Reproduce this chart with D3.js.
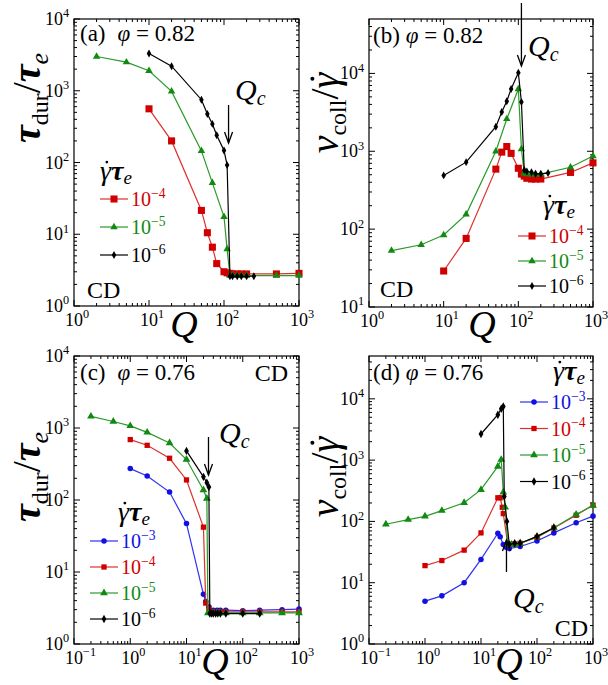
<!DOCTYPE html>
<html>
<head>
<meta charset="utf-8">
<script src="https://cdn.jsdelivr.net/npm/d3@7"></script>
<style>
  body { margin: 0; background: #fff; }
</style>
</head>
<body>
<svg id="chart" width="608" height="685"></svg>
<script>
// ---- data ----
// (a) tau_dur / tau_e, phi = 0.82
const qA4 = [10, 20, 50, 60, 70, 80, 100, 110, 120, 130, 150, 170, 200, 500, 1000];
const vA4 = [560, 200, 21.5, 10.5, 6.6, 3.9, 3.0, 2.9, 2.85, 2.8, 2.8, 2.8, 2.8, 2.8, 2.85];
const qA5 = [2, 5, 10, 20, 50, 70, 100, 110, 120, 130, 150, 170, 200, 500, 1000];
const vA5 = [3000, 2500, 1900, 980, 145, 52, 17.5, 6.2, 2.65, 2.65, 2.65, 2.65, 2.65, 2.65, 2.65];
const qA6 = [10, 20, 50, 60, 70, 80, 100, 110, 120, 130, 150, 170, 200, 250];
const vA6 = [3300, 2200, 750, 475, 345, 240, 147, 92, 2.6, 2.6, 2.6, 2.6, 2.6, 2.6];

// (b) nu_coll / gammadot, phi = 0.82
const qB4 = [10, 20, 50, 60, 70, 80, 100, 110, 120, 130, 150, 170, 200, 500, 1000];
const vB4 = [29, 76, 590, 975, 1150, 940, 605, 510, 480, 450, 440, 440, 440, 535, 710];
const qB5 = [2, 5, 10, 20, 50, 70, 100, 110, 120, 130, 150, 170, 200, 500, 1000];
const vB5 = [53, 63, 84, 155, 1000, 2600, 6300, 1070, 520, 510, 505, 505, 510, 624, 870];
const qB6 = [10, 20, 50, 60, 70, 80, 100, 110, 120, 130, 150, 170, 200, 250];
const vB6 = [490, 725, 2070, 3200, 4400, 6300, 10200, 4300, 575, 550, 537, 515, 512, 525];

// (c) tau_dur / tau_e, phi = 0.76
const qC3 = [1, 2, 5, 10, 20, 22, 25, 30, 35, 40, 50, 100, 200, 500, 1000];
const vC3 = [273, 216, 129, 47, 4.9, 3.9, 3.3, 2.95, 2.95, 2.95, 2.95, 2.9, 2.95, 3.0, 3.05];
const qC4 = [1, 2, 5, 10, 20, 22, 25, 30, 35, 40, 50, 100, 200, 500, 1000];
const vC4 = [690, 575, 380, 190, 42, 3.7, 3.1, 2.8, 2.8, 2.8, 2.8, 2.8, 2.8, 2.8, 2.8];
const qC5 = [0.2, 0.5, 1, 2, 5, 10, 20, 23, 24, 30, 35, 40, 50, 100, 200, 500, 1000];
const vC5 = [1450, 1230, 1070, 870, 620, 365, 138, 105, 2.7, 2.7, 2.7, 2.7, 2.7, 2.7, 2.7, 2.7, 2.7];
const qC6 = [10, 20, 23, 25, 26, 28, 30, 33, 36, 40, 50, 100, 200];
const vC6 = [480, 210, 174, 151, 2.65, 2.65, 2.65, 2.65, 2.65, 2.65, 2.65, 2.65, 2.65];

// (d) nu_coll / gammadot, phi = 0.76
const qD3 = [1, 2, 5, 10, 20, 22, 25, 28, 32, 50, 100, 200, 500, 1000];
const vD3 = [5, 6.1, 10, 24, 64, 56, 42, 38, 36, 39, 48, 65, 95, 122];
const qD4 = [1, 2, 5, 10, 20, 22, 24, 25, 30, 35, 40, 50, 100, 200, 500, 1000];
const vD4 = [19, 23, 34, 65, 243, 243, 170, 134, 43, 42, 43, 44, 55, 78, 126, 185];
const qD5 = [0.2, 0.5, 1, 2, 5, 10, 20, 23, 25, 27, 30, 35, 40, 50, 100, 200, 500, 1000];
const vD5 = [90, 107, 121, 150, 202, 330, 790, 1020, 300, 170, 43, 42, 42, 44, 56, 79, 130, 182];
const qD6 = [10, 20, 23, 25, 26, 29, 32, 40, 50, 100, 200];
const vD6 = [2670, 5500, 6900, 7500, 255, 100, 42, 44, 44, 57, 79];

const phiLabels = ["0.82", "0.82", "0.76", "0.76"];
const qcValues = [115, 110, 24.6, 28.5];

const FONT = "'Liberation Serif', 'Times New Roman', Times, 'DejaVu Serif', serif";

// ---- styling per shear rate ----
const styles = {
  "-3": { color: "#1010e6", line: "#3030ee", shape: d3.symbolCircle },
  "-4": { color: "#d10000", line: "#dd3030", shape: d3.symbolSquare },
  "-5": { color: "#108a10", line: "#2a9a2a", shape: d3.symbolTriangle },
  "-6": { color: "#000000", line: "#000000", shape: d3.symbolDiamond }
};

const svg = d3.select("#chart");

function pow10(sel, exp, size) {
  sel.append("tspan").text("10");
  sel.append("tspan").attr("dy", -size * 0.42).attr("font-size", size * 0.68).text(exp.replace("-", "\u2212"));
}

// text made of parts; parts with dot:true get an over-dot (for gamma-dot)
function richText(parent, x, y, size, parts, anchor) {
  const t = parent.append("text").attr("x", x).attr("y", y).attr("font-size", size)
    .attr("font-family", FONT).attr("text-anchor", anchor || "start");
  parts.forEach(p => {
    const s = t.append("tspan").text(p.t);
    if (p.size) s.attr("font-size", p.size);
    if (p.dy) s.attr("dy", p.dy);
    if (p.it) s.attr("font-style", "italic");
    if (p.bold) s.attr("font-weight", "bold");
  });
  let idx = 0;
  parts.forEach(p => {
    if (p.dot) {
      const n = t.node();
      const st = n.getStartPositionOfChar(idx);
      const ex = n.getExtentOfChar(idx);
      const fs = p.size || size;
      parent.append("circle").attr("cx", st.x + ex.width * 0.62).attr("cy", st.y - fs * 0.64)
        .attr("r", fs * 0.05).attr("fill", "#000");
    }
    idx += p.t.length;
  });
  return t;
}

function drawPanel(p) {
  const x = d3.scaleLog().domain(p.xd).range([p.x0, p.x1]);
  const y = d3.scaleLog().domain(p.yd).range([p.y1, p.y0]);
  const g = svg.append("g");

  // frame
  g.append("rect").attr("x", p.x0).attr("y", p.y0)
    .attr("width", p.x1 - p.x0).attr("height", p.y1 - p.y0)
    .attr("fill", "none").attr("stroke", "#000").attr("stroke-width", 1.2);

  // ticks, inward on all sides
  const decX = d3.range(Math.round(Math.log10(p.xd[0])), Math.round(Math.log10(p.xd[1])) + 1);
  const minorX = [];
  decX.forEach(e => { for (let k = 2; k <= 9; k++) { const v = k * Math.pow(10, e); if (v < p.xd[1]) minorX.push(v); } });
  const decY = d3.range(Math.round(Math.log10(p.yd[0])), Math.floor(Math.log10(p.yd[1]) + 1e-9) + 1);
  const minorY = [];
  d3.range(decY[0], decY[decY.length - 1] + 1).forEach(e => { for (let k = 2; k <= 9; k++) { const v = k * Math.pow(10, e); if (v < p.yd[1]) minorY.push(v); } });

  const tk = g.append("g").attr("stroke", "#000").attr("stroke-width", 1);
  decX.map(e => Math.pow(10, e)).forEach(v => {
    tk.append("line").attr("x1", x(v)).attr("x2", x(v)).attr("y1", p.y1).attr("y2", p.y1 - 6);
    tk.append("line").attr("x1", x(v)).attr("x2", x(v)).attr("y1", p.y0).attr("y2", p.y0 + 6);
  });
  minorX.forEach(v => {
    tk.append("line").attr("x1", x(v)).attr("x2", x(v)).attr("y1", p.y1).attr("y2", p.y1 - 3);
    tk.append("line").attr("x1", x(v)).attr("x2", x(v)).attr("y1", p.y0).attr("y2", p.y0 + 3);
  });
  decY.map(e => Math.pow(10, e)).forEach(v => {
    tk.append("line").attr("y1", y(v)).attr("y2", y(v)).attr("x1", p.x0).attr("x2", p.x0 + 6);
    tk.append("line").attr("y1", y(v)).attr("y2", y(v)).attr("x1", p.x1).attr("x2", p.x1 - 6);
  });
  minorY.forEach(v => {
    tk.append("line").attr("y1", y(v)).attr("y2", y(v)).attr("x1", p.x0).attr("x2", p.x0 + 3);
    tk.append("line").attr("y1", y(v)).attr("y2", y(v)).attr("x1", p.x1).attr("x2", p.x1 - 3);
  });

  // tick labels
  decX.forEach(e => {
    const t = g.append("text").attr("x", x(Math.pow(10, e)) - 9).attr("y", p.y1 + 20)
      .attr("font-size", 18);
    pow10(t, String(e), 18);
  });
  decY.forEach(e => {
    const t = g.append("text").attr("x", p.x0 - 5).attr("y", y(Math.pow(10, e)) + 6)
      .attr("font-size", 18).attr("text-anchor", "end");
    pow10(t, String(e), 18);
  });

  // series
  p.series.forEach(s => {
    const st = styles[s.rate];
    const pts = s.q.map((q, i) => [q, s.v[i]]);
    g.append("path").datum(pts)
      .attr("fill", "none").attr("stroke", st.line).attr("stroke-width", 1.2)
      .attr("d", d3.line().x(d => x(d[0])).y(d => y(d[1])));
    g.selectAll(null).data(pts).enter().append("path")
      .attr("transform", d => `translate(${x(d[0])},${y(d[1])})`)
      .attr("d", d3.symbol().type(st.shape).size(p.sizes[s.rate]))
      .attr("fill", st.color);
  });

  // axis labels
  g.append("text").attr("x", p.qx).attr("y", p.qy)
    .attr("font-size", 38).attr("font-style", "italic").attr("text-anchor", "middle").text("Q");

  const yg = g.append("g").attr("transform", `translate(${p.lx},${p.ly}) rotate(-90)`);
  if (p.kind === "tau") {
    richText(yg, 0, 0, 40, [
      { t: "\u03c4", it: true, bold: true },
      { t: "dur", size: 24, dy: 8 },
      { t: "/", dy: -8 },
      { t: "\u03c4", it: true, bold: true },
      { t: "e", size: 26, dy: 8, it: true }
    ], "middle");
  } else {
    richText(yg, 0, 0, 40, [
      { t: "\u03bd", it: true },
      { t: "coll", size: 24, dy: 8 },
      { t: "/", dy: -8 },
      { t: "\u03b3", it: true, dot: true }
    ], "middle");
  }

  // panel title
  const tt = g.append("text").attr("x", p.tx).attr("y", p.ty).attr("font-size", 23);
  tt.append("tspan").text(`(${p.id})`);
  tt.append("tspan").attr("dx", p.gap).attr("font-style", "italic").text("\u03c6");
  tt.append("tspan").text(" = " + p.phi);

  // CD tag
  g.append("text").attr("x", p.cdx).attr("y", p.cdy).attr("font-size", 24)
    .attr("text-anchor", p.cdAnchor).text("CD");

  // Qc arrow
  const ax = x(p.qc);
  const ar = g.append("g").attr("stroke", "#000").attr("stroke-width", 1.3).attr("fill", "none");
  ar.append("line").attr("x1", ax).attr("x2", ax).attr("y1", p.arrow[0]).attr("y2", p.arrow[1]);
  const dir = p.arrow[1] > p.arrow[0] ? -1 : 1;
  ar.append("path").attr("d", `M${ax - 4},${p.arrow[1] + dir * 11}L${ax},${p.arrow[1]}L${ax + 4},${p.arrow[1] + dir * 11}`);
  richText(g, p.qcx, p.qcy, 30, [
    { t: "Q", it: true },
    { t: "c", it: true, size: 20, dy: 5 }
  ]);

  // legend
  const lg = g.append("g");
  richText(lg, p.legTitleX, p.legTitleY, 28, [
    { t: "\u03b3", it: true, dot: true },
    { t: "\u03c4", it: true, bold: true },
    { t: "e", it: true, size: 19, dy: 4 }
  ]);
  p.series.slice().sort((a, b) => +b.rate - +a.rate).forEach((s, i) => {
    const st = styles[s.rate];
    const yy = p.legY0 + i * p.legDy;
    lg.append("line").attr("x1", p.legX).attr("x2", p.legX + 28).attr("y1", yy).attr("y2", yy)
      .attr("stroke", st.line).attr("stroke-width", 1.2);
    lg.append("path").attr("transform", `translate(${p.legX + 14},${yy})`)
      .attr("d", d3.symbol().type(st.shape).size(p.sizes[s.rate])).attr("fill", st.color);
    const t = lg.append("text").attr("x", p.legX + 31).attr("y", yy + 7).attr("font-size", 20)
      .style("fill", st.color);
    pow10(t, s.rate, 20);
  });
}

const bigSizes = { "-3": 22, "-4": 50, "-5": 24, "-6": 18 };
const smallSizes = { "-3": 24, "-4": 28, "-5": 26, "-6": 20 };

const panels = [
  { id: "a", kind: "tau", phi: phiLabels[0], qc: qcValues[0], x0: 74, x1: 299, y0: 19, y1: 306, xd: [1, 1000], yd: [1, 1e4],
    sizes: bigSizes, qx: 184, qy: 337, lx: 40, ly: 98, tx: 80, ty: 41, gap: 12, cdx: 87, cdy: 298, cdAnchor: "start",
    arrow: [105, 143], qcx: 235, qcy: 100, legX: 100, legTitleX: 100, legTitleY: 180, legY0: 199, legDy: 28,
    series: [{ rate: "-4", q: qA4, v: vA4 }, { rate: "-5", q: qA5, v: vA5 }, { rate: "-6", q: qA6, v: vA6 }] },
  { id: "b", kind: "nu", phi: phiLabels[1], qc: qcValues[1], x0: 369, x1: 593, y0: 19, y1: 307, xd: [1, 1000], yd: [10, 5e4],
    sizes: bigSizes, qx: 482, qy: 337, lx: 338, ly: 113, tx: 373, ty: 43, gap: 6, cdx: 380, cdy: 297, cdAnchor: "start",
    arrow: [3, 66], qcx: 528, qcy: 56, legX: 518, legTitleX: 543, legTitleY: 214, legY0: 236, legDy: 25,
    series: [{ rate: "-4", q: qB4, v: vB4 }, { rate: "-5", q: qB5, v: vB5 }, { rate: "-6", q: qB6, v: vB6 }] },
  { id: "c", kind: "tau", phi: phiLabels[2], qc: qcValues[2], x0: 74, x1: 299, y0: 356, y1: 644, xd: [0.1, 1000], yd: [1, 1e4],
    sizes: smallSizes, qx: 215, qy: 674, lx: 40, ly: 477, tx: 80, ty: 380, gap: 12, cdx: 288, cdy: 381, cdAnchor: "end",
    arrow: [437, 475], qcx: 219, qcy: 443, legX: 90, legTitleX: 118, legTitleY: 521, legY0: 541, legDy: 26,
    series: [{ rate: "-3", q: qC3, v: vC3 }, { rate: "-4", q: qC4, v: vC4 }, { rate: "-5", q: qC5, v: vC5 }, { rate: "-6", q: qC6, v: vC6 }] },
  { id: "d", kind: "nu", phi: phiLabels[3], qc: qcValues[3], x0: 369, x1: 593, y0: 356, y1: 644, xd: [0.1, 1000], yd: [1, 5e4],
    sizes: smallSizes, qx: 509, qy: 674, lx: 338, ly: 477, tx: 373, ty: 380, gap: 6, cdx: 588, cdy: 636, cdAnchor: "end",
    arrow: [572, 540], qcx: 513, qcy: 608, legX: 520, legTitleX: 553, legTitleY: 380, legY0: 402, legDy: 26.5,
    series: [{ rate: "-3", q: qD3, v: vD3 }, { rate: "-4", q: qD4, v: vD4 }, { rate: "-5", q: qD5, v: vD5 }, { rate: "-6", q: qD6, v: vD6 }] }
];

panels.forEach(drawPanel);
// serif face on every text element
svg.selectAll("text").attr("font-family", FONT).style("font-family", FONT);
</script>
</body>
</html>
